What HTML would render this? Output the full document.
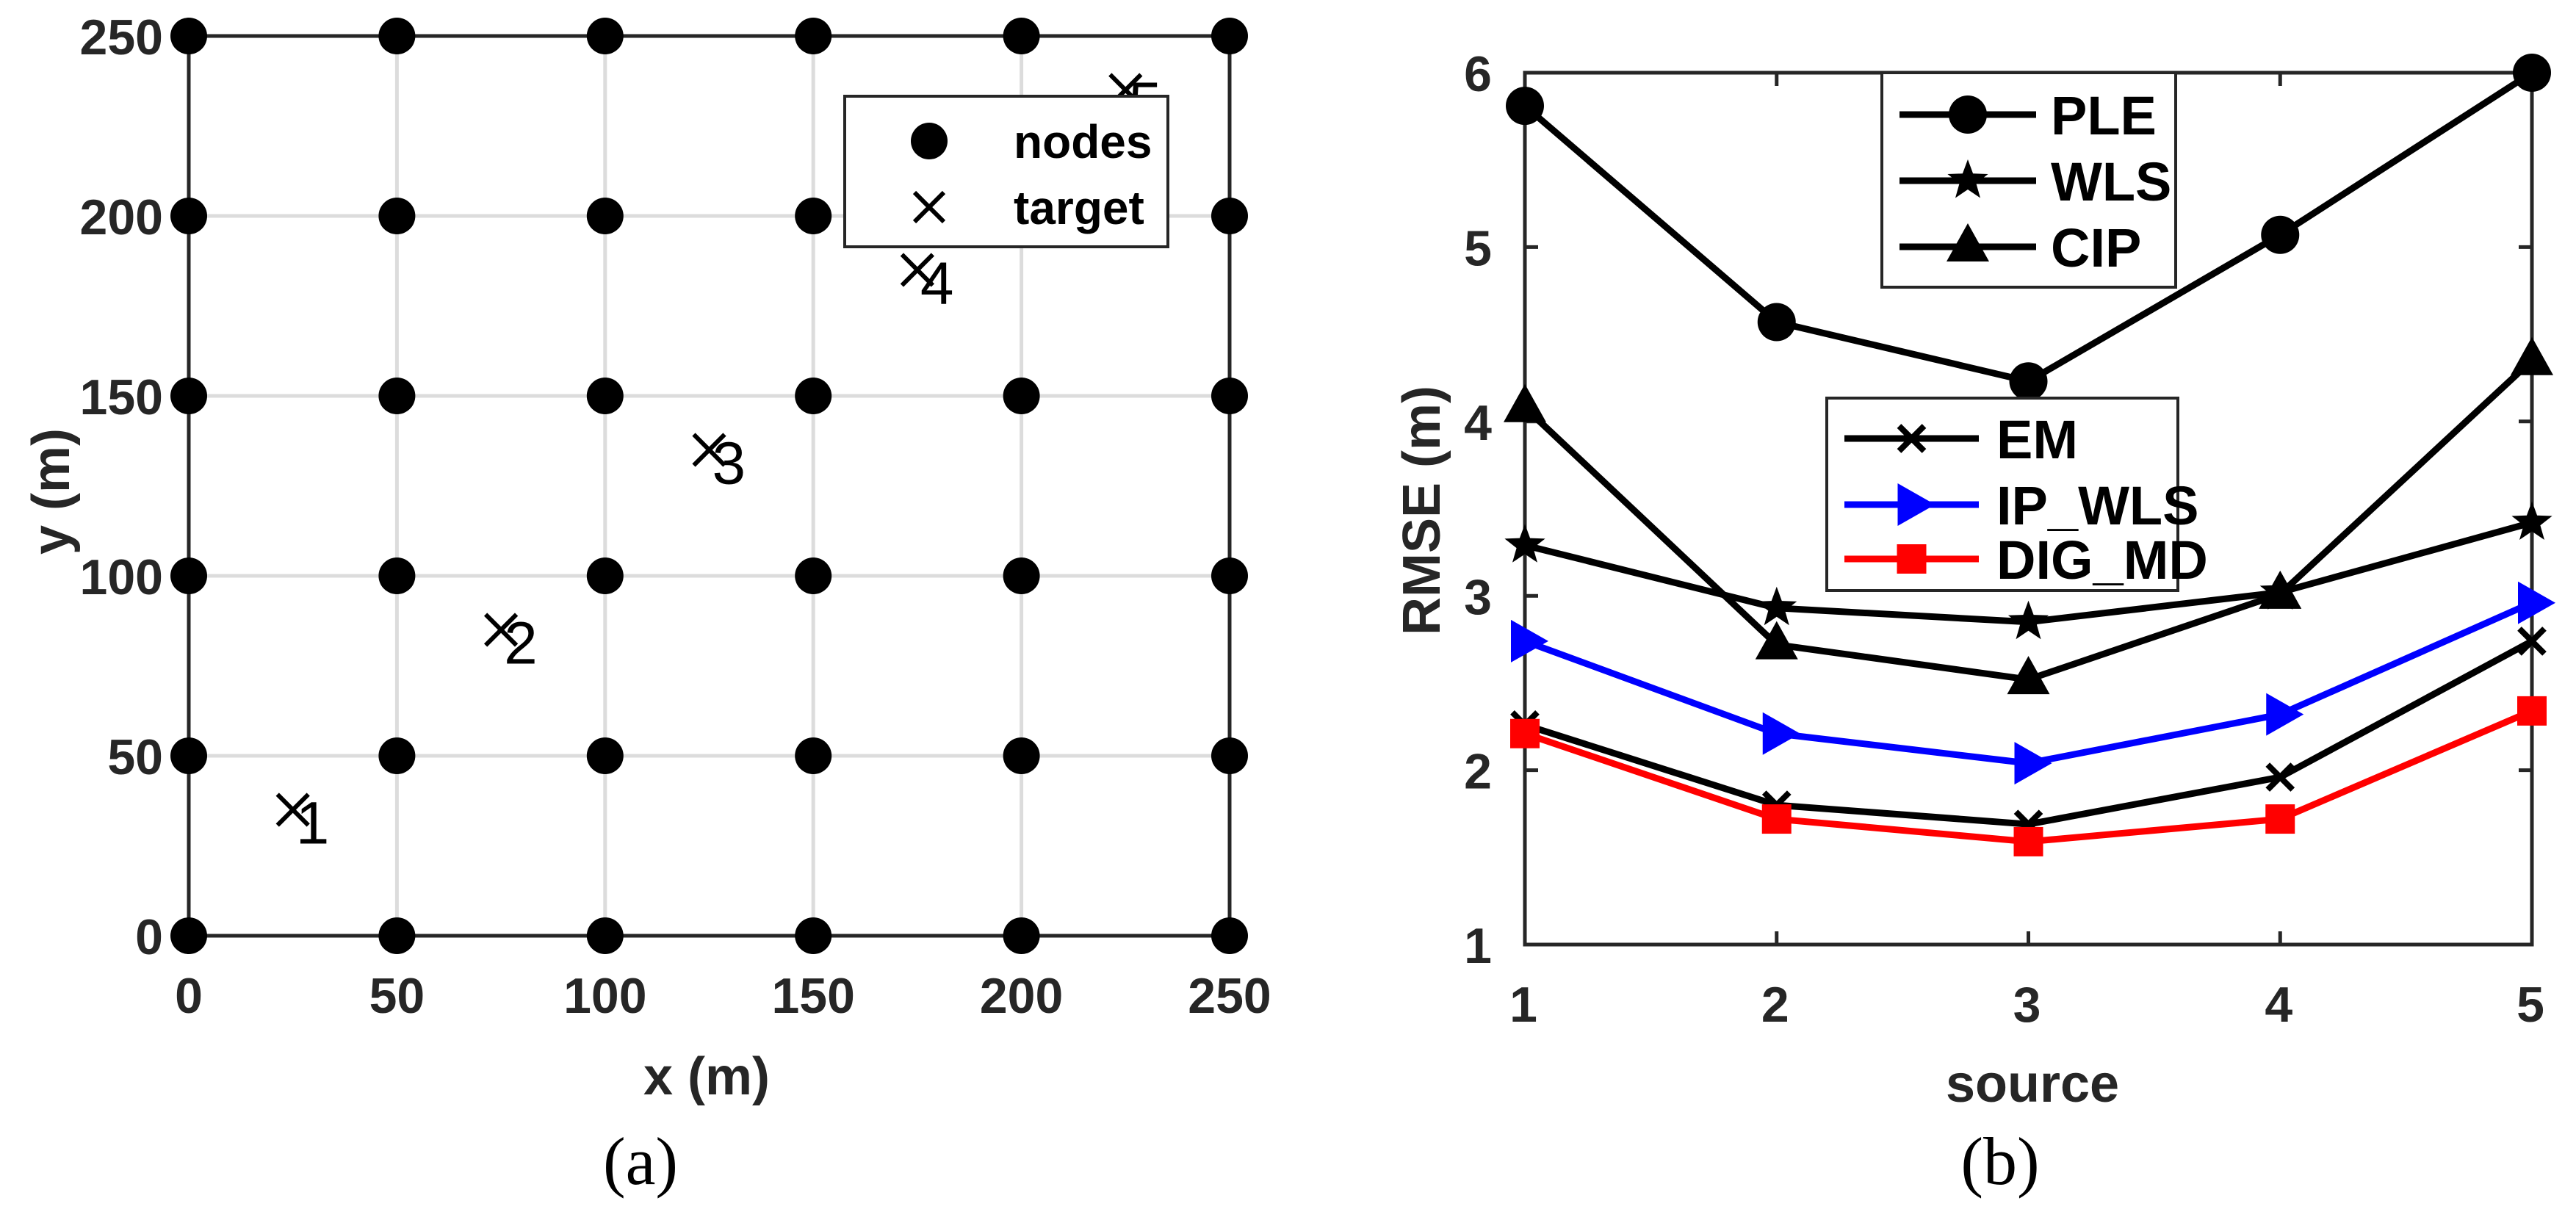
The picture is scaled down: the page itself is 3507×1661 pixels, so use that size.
<!DOCTYPE html>
<html><head><meta charset="utf-8">
<style>
html,body{margin:0;padding:0;background:#fff;}
svg{display:block;font-family:"Liberation Sans",Arial,sans-serif;}
.tk{font-size:68px;font-weight:bold;fill:#262626;}
.tt{font-size:72px;font-weight:bold;fill:#262626;}
.lg{font-size:64px;font-weight:bold;fill:#000;}
.lg2{font-size:74px;font-weight:bold;fill:#000;}
.cap{font-family:"Liberation Serif",serif;font-size:92px;fill:#000;}
</style></head>
<body>
<svg id="fig" width="3507" height="1661" viewBox="0 0 3507 1661" xmlns="http://www.w3.org/2000/svg">
<g id="left"></g>
<g id="right"></g>
</svg>
<script>
// ---- Chart (a) data ----
const gridTicks = [0, 50, 100, 150, 200, 250];
const nodeX = [0, 50, 100, 150, 200, 250];
const nodeY = [0, 50, 100, 150, 200, 250];
const targetX = [25, 75, 125, 175, 225];
const targetY = [35, 85, 135, 185, 235];
const targetLabels = ["1", "2", "3", "4", "5"];

// ---- Chart (b) data ----
const sources = [1, 2, 3, 4, 5];
const yTicksB = [1, 2, 3, 4, 5, 6];
const ple = [5.81, 4.57, 4.23, 5.07, 6.0];
const wls = [3.29, 2.93, 2.85, 3.02, 3.42];
const cip = [4.08, 2.72, 2.52, 3.01, 4.35];
const em = [2.26, 1.80, 1.69, 1.96, 2.74];
const ipwls = [2.74, 2.21, 2.04, 2.32, 2.96];
const digmd = [2.21, 1.72, 1.59, 1.72, 2.34];

const NS = "http://www.w3.org/2000/svg";
function mk(tag, attrs, parent, text) {
  const e = document.createElementNS(NS, tag);
  for (const k in attrs) e.setAttribute(k, attrs[k]);
  if (text !== undefined) e.textContent = text;
  parent.appendChild(e);
  return e;
}

// ===== Chart (a) =====
const L = document.getElementById('left');
const ax = v => 257 + (v / 250) * (1674 - 257);
const ay = v => 1274 - (v / 250) * (1274 - 49);
gridTicks.forEach(t => {
  let g1 = mk('line', {x1: ax(t), x2: ax(t), y1: ay(0), y2: ay(250), stroke: '#dcdcdc', 'stroke-width': 5}, L);
  
  
  let g2 = mk('line', {x1: ax(0), x2: ax(250), y1: ay(t), y2: ay(t), stroke: '#dcdcdc', 'stroke-width': 5}, L);
  
  
});
let boxA = mk('rect', {x: ax(0), y: ay(250), width: ax(250) - ax(0), height: ay(0) - ay(250), fill: 'none', stroke: '#262626', 'stroke-width': 5}, L);


gridTicks.forEach(t => {
  let xl = mk('text', {x: ax(t), y: 1379, 'text-anchor': 'middle', class: 'tk'}, L, String(t));
  
  
  let yl = mk('text', {x: 222, y: ay(t) + 25, 'text-anchor': 'end', class: 'tk'}, L, String(t));
  
  
});
nodeX.forEach(x => nodeY.forEach(y => {
  let c = mk('circle', {cx: ax(x), cy: ay(y), r: 25, fill: '#000'}, L);
  
  
}));
targetX.forEach((x, i) => {
  const cx = ax(x), cy = ay(targetY[i]), s = 21;
  let p = mk('path', {d: `M${cx-s},${cy-s}L${cx+s},${cy+s}M${cx-s},${cy+s}L${cx+s},${cy-s}`, stroke: '#000', 'stroke-width': 6, fill: 'none'}, L);
  
  
  let t = mk('text', {x: cx + 4, y: cy + 46, style: 'font-size:82px;fill:#000'}, L, targetLabels[i]);
  
  
});
// legend (a)
let lgA = mk('g', {}, L);


mk('rect', {x: 1150, y: 131, width: 440, height: 205, fill: '#fff', stroke: '#262626', 'stroke-width': 4}, lgA);
mk('circle', {cx: 1265, cy: 192, r: 25, fill: '#000'}, lgA);
mk('text', {x: 1380, y: 215, class: 'lg'}, lgA, 'nodes');
mk('path', {d: 'M1245,262L1285,302M1245,302L1285,262', stroke: '#000', 'stroke-width': 6}, lgA);
mk('text', {x: 1380, y: 305, class: 'lg'}, lgA, 'target');
let xt = mk('text', {x: 962, y: 1490, 'text-anchor': 'middle', class: 'tt'}, L, 'x (m)');


let yt = mk('text', {x: 0, y: 0, 'text-anchor': 'middle', class: 'tt', transform: 'translate(94,669) rotate(-90)'}, L, 'y (m)');


let ca = mk('text', {x: 872, y: 1612, 'text-anchor': 'middle', class: 'cap'}, L, '(a)');



// ===== Chart (b) =====
const R = document.getElementById('right');
const bx = v => 2076 + (v - 1) / 4 * (3447 - 2076);
const by = v => 1286 - (v - 1) / 5 * (1286 - 99);
let boxB = mk('rect', {x: bx(1), y: by(6), width: bx(5) - bx(1), height: by(1) - by(6), fill: 'none', stroke: '#262626', 'stroke-width': 5}, R);


sources.forEach(s => {
  let tk = mk('path', {d: `M${bx(s)},${by(1)}v-18M${bx(s)},${by(6)}v18`, stroke: '#262626', 'stroke-width': 5}, R);
  
  
  let l = mk('text', {x: bx(s) - 2, y: 1391, 'text-anchor': 'middle', class: 'tk'}, R, String(s));
  
  
});
yTicksB.forEach(v => {
  let tk = mk('path', {d: `M${bx(1)},${by(v)}h18M${bx(5)},${by(v)}h-18`, stroke: '#262626', 'stroke-width': 5}, R);
  
  
  let l = mk('text', {x: 2031, y: by(v) + 25, 'text-anchor': 'end', class: 'tk'}, R, String(v));
  
  
});
function marker(type, cx, cy, color, parent) {
  if (type === 'circle') return mk('circle', {cx, cy, r: 26, fill: color}, parent);
  if (type === 'star') {
    let pts = [];
    for (let k = 0; k < 10; k++) {
      const r = k % 2 ? 12 : 29, a = -Math.PI / 2 + k * Math.PI / 5;
      pts.push((cx + r * Math.cos(a)).toFixed(1) + ',' + (cy + r * Math.sin(a)).toFixed(1));
    }
    return mk('polygon', {points: pts.join(' '), fill: color}, parent);
  }
  if (type === 'tri') return mk('polygon', {points: `${cx},${cy-32} ${cx+29},${cy+20} ${cx-29},${cy+20}`, fill: color}, parent);
  if (type === 'x') return mk('path', {d: `M${cx-17},${cy-17}L${cx+17},${cy+17}M${cx-17},${cy+17}L${cx+17},${cy-17}`, stroke: color, 'stroke-width': 8}, parent);
  if (type === 'right') return mk('polygon', {points: `${cx+32},${cy} ${cx-19},${cy-29} ${cx-19},${cy+29}`, fill: color}, parent);
  if (type === 'sq') return mk('rect', {x: cx - 20, y: cy - 20, width: 40, height: 40, fill: color}, parent);
}
const seriesList = [
  ['ple', ple, 'circle', '#000'], ['wls', wls, 'star', '#000'], ['cip', cip, 'tri', '#000'],
  ['em', em, 'x', '#000'], ['ip-wls', ipwls, 'right', '#0000ff'], ['dig-md', digmd, 'sq', '#ff0000']
];
seriesList.forEach(([name, vals, mt, col]) => {
  const g = mk('g', {}, R);
  
  
  mk('polyline', {points: vals.map((v, i) => bx(sources[i]) + ',' + by(v)).join(' '), fill: 'none', stroke: col, 'stroke-width': 9, 'stroke-linejoin': 'round'}, g);
  vals.forEach((v, i) => {
    const m = marker(mt, bx(sources[i]), by(v), col, g);
    
    
  });
});
// legends (b)
function legend(x, y, w, h, entries, lx1, lx2, tx, name) {
  const g = mk('g', {}, R);
  
  
  mk('rect', {x, y, width: w, height: h, fill: '#fff', stroke: '#262626', 'stroke-width': 4}, g);
  entries.forEach(([label, mt, col, ey]) => {
    mk('line', {x1: lx1, x2: lx2, y1: ey, y2: ey, stroke: col, 'stroke-width': 9}, g);
    marker(mt, (lx1 + lx2) / 2, ey, col, g);
    mk('text', {x: tx, y: ey + 27, class: 'lg2'}, g, label);
  });
}
legend(2562, 99, 400, 292, [['PLE', 'circle', '#000', 156], ['WLS', 'star', '#000', 246], ['CIP', 'tri', '#000', 336]], 2586, 2772, 2792, 'legend-top');
legend(2487, 542, 478, 262, [['EM', 'x', '#000', 597], ['IP_WLS', 'right', '#0000ff', 687], ['DIG_MD', 'sq', '#ff0000', 761]], 2511, 2694, 2718, 'legend-bottom');
let st = mk('text', {x: 2767, y: 1500, 'text-anchor': 'middle', class: 'tt'}, R, 'source');


let rt = mk('text', {x: 0, y: 0, 'text-anchor': 'middle', class: 'tt', transform: 'translate(1960,695) rotate(-90)'}, R, 'RMSE (m)');


let cb = mk('text', {x: 2723, y: 1612, 'text-anchor': 'middle', class: 'cap'}, R, '(b)');


</script>
</body></html>
